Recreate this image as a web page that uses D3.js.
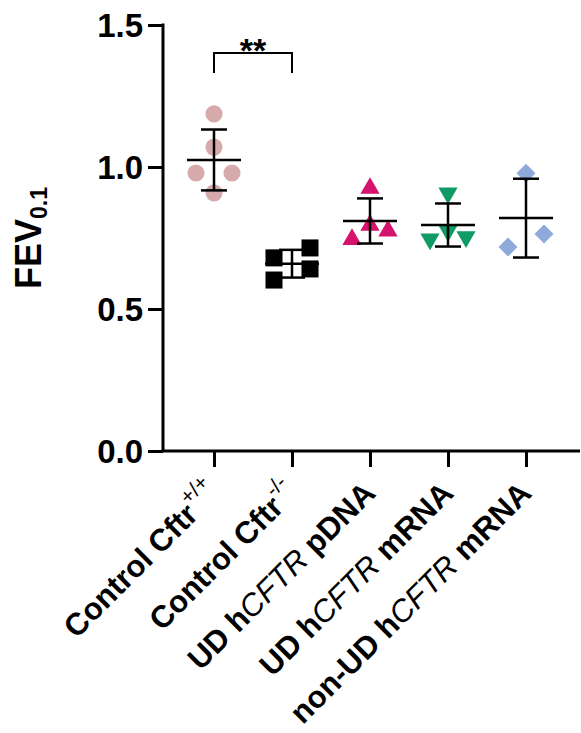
<!DOCTYPE html>
<html>
<head>
<meta charset="utf-8">
<script src="https://cdn.jsdelivr.net/npm/d3@7"></script>
<style>
  body { margin: 0; background: #fff; }
  text { font-family: "Liberation Sans", Arial, sans-serif; }
</style>
</head>
<body>
<svg id="chart" width="581" height="733"></svg>
<script>
// Groups
const groups = ["wt", "ko", "udp", "udm", "nonud"];
const colors = ["#d6aaaa", "#000000", "#d5126c", "#109b66", "#8eaadb"];
const shapes = ["circle", "square", "up", "down", "diamond"];

// FEV0.1 values per group
const wtValues = [1.187, 1.070, 0.979, 0.979, 0.909];
const koValues = [0.715, 0.680, 0.641, 0.602];
const udpValues = [0.925, 0.795, 0.775, 0.745];
const udmValues = [0.908, 0.775, 0.746, 0.754];
const nonudValues = [0.978, 0.764, 0.718];

// column of each point inside its group (scatter spread, -1 / 0 / 1)
const wtCols = [0, 0, -1, 1, 0];
const koCols = [1, -1, 1, -1];
const udpCols = [0, 0, 1, -1];
const udmCols = [0, 0, -1, 1];
const nonudCols = [0, 1, -1];

const yTicks = [0, 0.5, 1.0, 1.5];

const allValues = [wtValues, koValues, udpValues, udmValues, nonudValues];
const allCols = [wtCols, koCols, udpCols, udmCols, nonudCols];

const svg = d3.select("#chart");

const x = d3.scalePoint().domain(groups).range([214, 526]);
const y = d3.scaleLinear().domain([0, 1.5]).range([451, 25]);

const axisLeftX = 163;

/****************/
/*  Axes        */
/****************/
const yAxis = svg.append("g")
  .attr("transform", `translate(${axisLeftX},0)`)
  .call(d3.axisLeft(y).tickValues(yTicks).tickFormat(d3.format(".1f")).tickSize(15).tickPadding(5));

yAxis.select(".domain").remove();
yAxis.selectAll(".tick line").attr("stroke", "#000").attr("stroke-width", 3);
yAxis.selectAll(".tick text")
  .attr("fill", "#000")
  .style("font-size", "33px")
  .style("font-weight", "bold")
  .attr("dy", "0.36em");

svg.append("line")
  .attr("x1", axisLeftX).attr("x2", axisLeftX)
  .attr("y1", y(1.5) - 1.5).attr("y2", y(0))
  .attr("stroke", "#000").attr("stroke-width", 3);

const xAxis = svg.append("g")
  .attr("transform", `translate(0,${y(0)})`)
  .call(d3.axisBottom(x).tickSize(16).tickFormat(""));

xAxis.select(".domain").remove();
xAxis.selectAll(".tick line").attr("stroke", "#000").attr("stroke-width", 3);

svg.append("line")
  .attr("x1", axisLeftX - 1.5).attr("x2", 580)
  .attr("y1", y(0)).attr("y2", y(0))
  .attr("stroke", "#000").attr("stroke-width", 3);

// category labels, rotated
const labelParts = [
  [["Control Cftr", "b"], ["+/+", "sup"]],
  [["Control Cftr", "b"], ["-/-", "sup"]],
  [["UD h", "b"], ["CFTR", "i"], [" pDNA", "b"]],
  [["UD h", "b"], ["CFTR", "i"], [" mRNA", "b"]],
  [["non-UD h", "b"], ["CFTR", "i"], [" mRNA", "b"]]
];

groups.forEach((g, i) => {
  const t = svg.append("text")
    .attr("transform", `translate(${x(g) + 7},${y(0) + 44}) rotate(-45)`)
    .attr("text-anchor", "end")
    .style("font-size", "31px")
    .attr("fill", "#000");
  labelParts[i].forEach(([s, kind]) => {
    const sp = t.append("tspan").text(s);
    if (kind === "b") sp.style("font-weight", "bold");
    if (kind === "i") sp.style("font-style", "italic");
    if (kind === "sup") sp.style("font-size", "21px").attr("dy", "-16");
  });
});

// y label
const yLabel = svg.append("text")
  .attr("transform", `translate(41,${238}) rotate(-90)`)
  .attr("text-anchor", "middle")
  .attr("fill", "#000");
yLabel.append("tspan").text("FEV").style("font-size", "36px").style("font-weight", "bold");
yLabel.append("tspan").text("0.1").style("font-size", "23px").style("font-weight", "bold").attr("dy", "6");

/****************/
/*  Points      */
/****************/
const spread = 18;
const markers = {
  circle: { type: d3.symbolCircle, size: 230, rot: 0 },
  square: { type: d3.symbolSquare, size: 290, rot: 0 },
  up: { type: d3.symbolTriangle, size: 160, rot: 0 },
  down: { type: d3.symbolTriangle, size: 160, rot: 180 },
  diamond: { type: d3.symbolSquare, size: 180, rot: 45 }
};

groups.forEach((g, i) => {
  const vals = allValues[i];
  const m = markers[shapes[i]];

  svg.append("g").selectAll("path")
    .data(vals)
    .join("path")
      .attr("d", d3.symbol().type(m.type).size(m.size))
      .attr("transform", (d, j) => `translate(${x(g) + allCols[i][j] * spread},${y(d)}) rotate(${m.rot})`)
      .attr("fill", colors[i]);

  const mean = d3.mean(vals);
  const sd = d3.deviation(vals);
  const cx = x(g);
  const bars = svg.append("g").attr("stroke", "#000").attr("stroke-width", 2.5);
  bars.append("line").attr("x1", cx).attr("x2", cx).attr("y1", y(mean + sd)).attr("y2", y(mean - sd));
  bars.append("line").attr("x1", cx - 27).attr("x2", cx + 27).attr("y1", y(mean)).attr("y2", y(mean));
  bars.append("line").attr("x1", cx - 13).attr("x2", cx + 13).attr("y1", y(mean + sd)).attr("y2", y(mean + sd));
  bars.append("line").attr("x1", cx - 13).attr("x2", cx + 13).attr("y1", y(mean - sd)).attr("y2", y(mean - sd));
});

/****************/
/*  Significance */
/****************/
const brTop = 53;
svg.append("path")
  .attr("d", `M${x("wt")},${brTop + 20}V${brTop}H${x("ko")}V${brTop + 20}`)
  .attr("fill", "none").attr("stroke", "#000").attr("stroke-width", 2);

svg.append("text")
  .attr("x", (x("wt") + x("ko")) / 2)
  .attr("y", 62)
  .attr("text-anchor", "middle")
  .style("font-size", "34px")
  .style("font-weight", "bold")
  .text("**");
</script>
</body>
</html>
